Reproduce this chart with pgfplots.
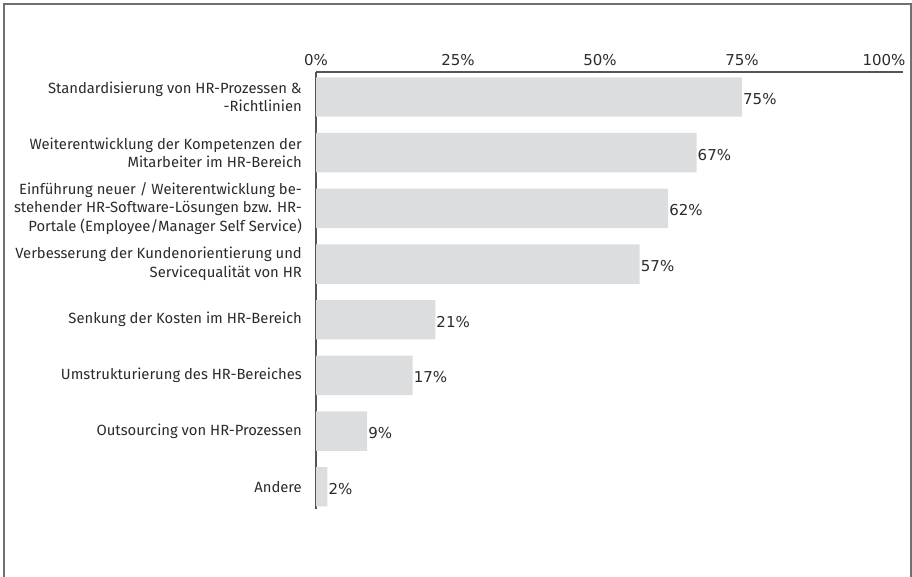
\documentclass[border=0pt]{standalone}
\usepackage{pgfplots}
\pgfplotsset{compat=1.18}
\usepackage{fontspec}
\setmainfont{Fira Sans}
\newfontfamily\numfamily{DejaVu Sans}
\definecolor{bargray}{HTML}{DCDDDF}
\definecolor{axgray}{HTML}{555555}
\definecolor{framegray}{HTML}{707070}
\definecolor{txt}{HTML}{2B2B2B}
\newcommand{\lblfont}{\fontsize{14.8pt}{18.5pt}\selectfont}
\newcommand{\numfont}{\numfamily\fontsize{15pt}{18pt}\selectfont}
\begin{document}
\lblfont
\begin{tikzpicture}
\path[use as bounding box] (0,0) rectangle (912pt,576pt);
\draw[line width=2pt, color=framegray] (3.5pt,-2pt) -- (3.5pt,572pt) -- (910.5pt,572pt) -- (910.5pt,-2pt);
\begin{axis}[
  at={(316pt,504pt)}, anchor=north west,
  scale only axis, width=586.7pt, height=437pt,
  xbar, bar width=39.4pt,
  xmin=0, xmax=103.3, ymin=-0.449, ymax=7.399, y dir=reverse,
  axis x line*=top, axis y line*=left,
  axis line style={axgray, line width=1.3pt},
  major tick length=0pt,
  /pgf/number format/assume math mode=true,
  tick label style={font=\lblfont},
  xtick={0,25,50,75,100},
  xticklabel={\numfont\pgfmathprintnumber{\tick}\%},
  xticklabel style={txt, inner sep=0pt, yshift=6pt},
  ytick={0,...,7},
  yticklabels={
    {Standardisierung von HR-Prozessen \&\\-Richtlinien},
    {Weiterentwicklung der Kompetenzen der\\Mitarbeiter im HR-Bereich},
    {Einführung neuer / Weiterentwicklung be-\\stehender HR-Software-Lösungen bzw. HR-\\Portale (Employee/Manager Self Service)},
    {Verbesserung der Kundenorientierung und\\Servicequalität von HR},
    {Senkung der Kosten im HR-Bereich},
    {Umstrukturierung des HR-Bereiches},
    {Outsourcing von HR-Prozessen},
    {Andere}},
  yticklabel style={txt, align=right, inner sep=0pt, xshift=-14pt},
  point meta=x,
  nodes near coords={\numfont\pgfmathprintnumber{\pgfplotspointmeta}\%},
  every node near coord/.append style={txt, anchor=west, inner sep=1pt, yshift=-2pt},
]
\addplot[fill=bargray, draw=none] coordinates {(75,0) (67,1) (62,2) (57,3) (21,4) (17,5) (9,6) (2,7)};
\end{axis}
\end{tikzpicture}
\end{document}
